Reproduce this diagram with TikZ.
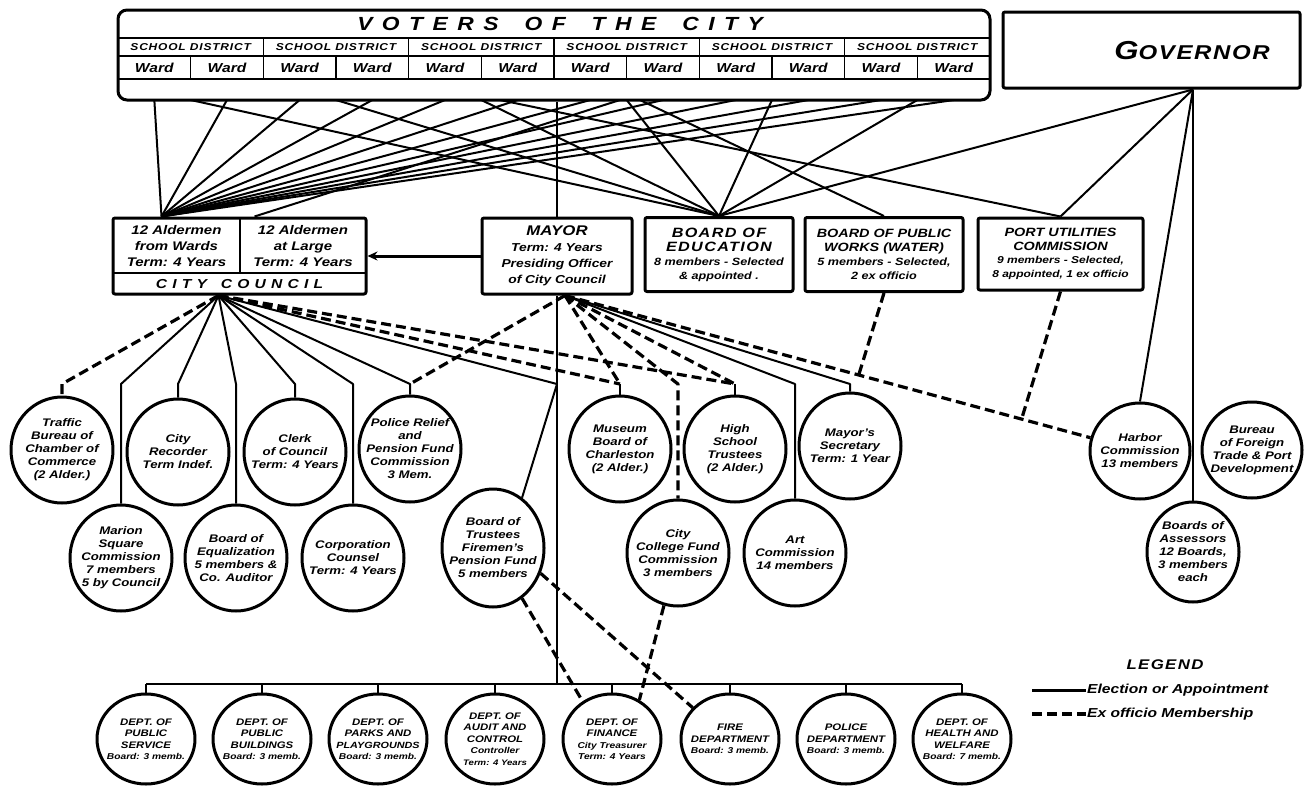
\documentclass[tikz,border=0pt]{standalone}
\usepackage{fontspec}
\setmainfont{Liberation Sans}[FakeStretch=1.2]
\usetikzlibrary{shapes.geometric,arrows.meta,calc}
\newcommand{\fsz}[2]{\fontsize{#1}{#2}\selectfont}
\newcommand{\orgn}[4][]{\node[org,#1] (#2) at (#3) {}; \node[ctext] (#2-t) at (#2.center) {#4};}
\newcommand{\deptn}[3]{\node[dept] (#1) at (#2) {}; \node[dtext] (#1-t) at (#1.center) {#3};}
\begin{document}
\begin{tikzpicture}[x=1pt,y=-1pt,line join=round,
  ctext/.style={align=center,inner sep=0pt,font=\bfseries\itshape\fsz{11}{13}},
  dtext/.style={align=center,inner sep=0pt,font=\bfseries\itshape\fsz{9.5}{11.5}},
  org/.style={ellipse,draw,line width=3pt,inner sep=0pt,minimum width=102pt,minimum height=106pt},
  dept/.style={ellipse,draw,line width=3pt,inner sep=0pt,minimum width=98pt,minimum height=90pt},
  obox/.style={draw,line width=3pt,rounded corners=2pt,inner sep=0pt,align=center,font=\bfseries\itshape\fsz{10}{13.5}},
  sol/.style={line width=2pt},
  exo/.style={line width=3.2pt,dash pattern=on 10pt off 5pt},
  rule/.style={line width=1.6pt},
]
\fill[white] (0,0) rectangle (1307,785);
\useasboundingbox (0,0) rectangle (1307,785);

% ---------------- Voters of the city
\node[obox,rounded corners=9pt,minimum width=872pt,minimum height=90pt] (voters) at (554,55) {};
\draw[rule] (118,38) -- (990,38);
\draw[rule] (118,56) -- (990,56);
\draw[rule] (118,79) -- (990,79);
\foreach \i in {1,...,5} \draw[rule] ({118+872/6*\i},38) -- ++(0,18);
\foreach \i in {1,...,11} \draw[rule] ({118+872/12*\i},56) -- ++(0,23);
\node[font=\bfseries\itshape\fsz{19}{21}\addfontfeature{LetterSpace=50}] (vt) at (560,24) {VOTERS\kern26pt OF\kern26pt THE\kern26pt CITY};
\foreach \i in {0,...,5} {
  \node[font=\bfseries\itshape\fsz{10}{11}\addfontfeature{LetterSpace=8}] (sd\i) at ({118+872/12*(2*\i+1)},47) {SCHOOL DISTRICT};
  \coordinate (s\i) at ({118+872/12*(2*\i+1)},100);
}
\foreach \i in {0,...,11} {
  \node[font=\bfseries\itshape\fsz{13}{14}] (wd\i) at ({118+872/24*(2*\i+1)},67.5) {Ward};
  \coordinate (w\i) at ({118+872/24*(2*\i+1)},100);
}

% ---------------- Governor
\node[obox,minimum width=297pt,minimum height=76pt] (gov) at (1151.5,50) {};
\node[font=\bfseries\itshape\addfontfeature{LetterSpace=8}] (govt) at (1192,51) {{\fsz{26}{28}G}{\fsz{20}{28}OVERNOR}};

% ---------------- Middle row
\node[obox,minimum width=253pt,minimum height=76pt] (council) at (239.5,256) {};
\draw[line width=2.4pt] (113,273) -- (366,273);
\draw[line width=2.4pt] (240,218) -- (240,273);
\node[ctext,font=\bfseries\itshape\fsz{12.5}{16}] (ald1) at (176.5,246) {12 Aldermen\\from Wards\\Term: 4 Years};
\node[ctext,font=\bfseries\itshape\fsz{12.5}{16}] (ald2) at (303,246) {12 Aldermen\\at Large\\Term: 4 Years};
\node[font=\bfseries\itshape\fsz{13}{14}\addfontfeature{LetterSpace=40}] (cct) at (239.5,284) {CITY\kern14pt COUNCIL};

\node[obox,minimum width=150pt,minimum height=76pt,font=\bfseries\itshape\fsz{11.5}{16}] (mayor) at (557,256)
  {{\fsz{14}{16}MAYOR}\\Term: 4 Years\\Presiding Officer\\of City Council};
\node[obox,minimum width=148pt,minimum height=74pt,font=\bfseries\itshape\fsz{10.5}{14}] (edu) at (719,254.5)
  {{\fsz{13.5}{15.5}\addfontfeature{LetterSpace=10}BOARD OF}\\{\fsz{13.5}{15.5}\addfontfeature{LetterSpace=10}EDUCATION}\\8 members - Selected\\\& appointed .};
\node[obox,minimum width=158pt,minimum height=74pt,font=\bfseries\itshape\fsz{10.5}{14}] (pw) at (884,254.5)
  {{\fsz{12}{14.5}BOARD OF PUBLIC}\\{\fsz{12}{14.5}WORKS (WATER)}\\5 members - Selected,\\2 ex officio};
\node[obox,minimum width=165pt,minimum height=72pt,font=\bfseries\itshape\fsz{10}{13.5}] (pu) at (1060.5,254)
  {{\fsz{12}{14.5}PORT UTILITIES}\\{\fsz{12}{14.5}COMMISSION}\\9 members - Selected,\\8 appointed, 1 ex officio};

% ---------------- Circles, first row
\orgn{traffic}{62,450}{Traffic\\Bureau of\\Chamber of\\Commerce\\(2 Alder.)}
\orgn{recorder}{178,452}{City\\Recorder\\Term Indef.}
\orgn{clerk}{295,452}{Clerk\\of Council\\Term: 4 Years}
\orgn{polrel}{410,449}{Police Relief\\and\\Pension Fund\\Commission\\3 Mem.}
\orgn{museum}{620,449}{Museum\\Board of\\Charleston\\(2 Alder.)}
\orgn{high}{735,449}{High\\School\\Trustees\\(2 Alder.)}
\orgn{secr}{850,446}{Mayor's\\Secretary\\Term: 1 Year}
\orgn[minimum width=100pt,minimum height=96pt]{harbor}{1140,451}{Harbor\\Commission\\13 members}
\orgn[minimum width=100pt,minimum height=96pt]{bureau}{1252,450}{Bureau\\of Foreign\\Trade \& Port\\Development}

% ---------------- Circles, second row
\orgn{marion}{121,558}{Marion\\Square\\Commission\\7 members\\5 by Council}
\orgn{equal}{236,558}{Board of\\Equalization\\5 members \&\\Co. Auditor}
\orgn{corp}{353,558}{Corporation\\Counsel\\Term: 4 Years}
\orgn[minimum height=118pt]{firemen}{493,548}{Board of\\Trustees\\Firemen's\\Pension Fund\\5 members}
\orgn{college}{678,553}{City\\College Fund\\Commission\\3 members}
\orgn{art}{795,553}{Art\\Commission\\14 members}
\orgn[minimum width=92pt,minimum height=100pt]{assess}{1193,552}{Boards of\\Assessors\\12 Boards,\\3 members\\each}

% ---------------- Departments
\deptn{pubserv}{146,739}{DEPT. OF\\PUBLIC\\SERVICE\\{\fsz{8.5}{11}Board: 3 memb.}}
\deptn{pubbld}{262,739}{DEPT. OF\\PUBLIC\\BUILDINGS\\{\fsz{8.5}{11}Board: 3 memb.}}
\deptn{parks}{378,739}{DEPT. OF\\PARKS AND\\{\fsz{9}{11.5}PLAYGROUNDS}\\{\fsz{8.5}{11}Board: 3 memb.}}
\deptn{audit}{495,739}{DEPT. OF\\AUDIT AND\\CONTROL\\{\fsz{8.5}{10.5}Controller}\\{\fsz{8}{10}Term: 4 Years}}
\deptn{finance}{612,739}{DEPT. OF\\FINANCE\\{\fsz{8.5}{11}City Treasurer}\\{\fsz{8.5}{11}Term: 4 Years}}
\deptn{fire}{730,739}{FIRE\\DEPARTMENT\\{\fsz{8.5}{11}Board: 3 memb.}}
\deptn{policed}{846,739}{POLICE\\DEPARTMENT\\{\fsz{8.5}{11}Board: 3 memb.}}
\deptn{health}{962,739}{DEPT. OF\\HEALTH AND\\WELFARE\\{\fsz{8.5}{11}Board: 7 memb.}}

% ---------------- Helper coordinates
\coordinate (lev) at (0,384);
\coordinate (bus) at (0,684);
\coordinate (ctop) at ($(council.north west)+(50,0)$);
\coordinate (alat) at ($(council.north)+(15,0)$);
\coordinate (vat) at (620,100);
\coordinate (vpw) at (640,100);
\coordinate (vpu) at (500,100);
\coordinate (cb) at ($(council.south)+(-21,0)$);
\coordinate (mb) at ($(mayor.south)+(8,0)$);
\coordinate (gb) at (gov.south -| assess.north);

% ---------------- Voters' connections
\foreach \i in {0,...,11} \draw[sol] (w\i) -- (ctop);
\foreach \i in {0,...,5} \draw[sol] (s\i) -- (edu.north);
\draw[sol] (vat) -- (alat);
\draw[sol] (mayor.north |- voters.south) -- (mayor.north);
\draw[sol] (vpw) -- (pw.north);
\draw[sol] (vpu) -- (pu.north);

% ---------------- Governor's connections
\draw[sol] (gb) -- (edu.north);
\draw[sol] (gb) -- (pu.north);
\draw[sol] (gb) -- (harbor.north);
\draw[sol] (gb) -- (assess.north);

% ---------------- Mayor to council
\draw[line width=3pt,-{Stealth[length=10pt,width=9pt]}] (mayor.west) -- (council.east);

% ---------------- Council's connections
\draw[exo] (cb) -- (traffic.north |- lev) -- (traffic.north);
\foreach \n in {marion,recorder,equal,clerk,corp,polrel}
  \draw[sol] (cb) -- (\n.north |- lev) -- (\n.north);
\coordinate (fj) at (mayor.south |- lev);
\draw[sol] (cb) -- (fj) -- (firemen.60);
\draw[exo] (cb) -- (museum.north |- lev);
\draw[exo] (cb) -- (high.north |- lev);
\draw[sol] (museum.north |- lev) -- (museum.north);
\draw[sol] (high.north |- lev) -- (high.north);

% ---------------- Mayor's connections
\draw[exo] (mb) -- (polrel.north |- lev);
\draw[exo] (mb) -- (museum.north |- lev);
\draw[exo] (mb) -- (college.north |- lev) -- (college.north);
\draw[exo] (mb) -- (high.north |- lev);
\draw[sol] (mb) -- (art.north |- lev) -- (art.north);
\draw[sol] (mb) -- (secr.north |- lev) -- (secr.north);
\draw[exo] (mb) -- (harbor.165);
\coordinate (j1) at ($(mb)!0.559!(harbor.165)$);
\coordinate (j2) at ($(mb)!0.869!(harbor.165)$);
\draw[exo] (pw.south) -- (j1);
\draw[exo] (pu.south) -- (j2);

% ---------------- Departments bus
\draw[sol] (mayor.south) -- (mayor.south |- bus);
\draw[sol] (pubserv.north |- bus) -- (health.north |- bus);
\foreach \dd in {pubserv,pubbld,parks,audit,finance,fire,policed,health}
  \draw[sol] (\dd.north |- bus) -- (\dd.north);

% ---------------- Ex officio at the bottom
\draw[exo] (firemen.-60) -- (finance.128);
\draw[exo] (firemen.-28) -- (fire.140);
\draw[exo] (college.-105) -- (finance.55);

% ---------------- Legend
\node[font=\bfseries\itshape\fsz{14}{16}\addfontfeature{LetterSpace=10}] (legt) at (1165,665) {LEGEND};
\coordinate (l1a) at (1032,690);
\coordinate (l1b) at (1086,690);
\coordinate (l2a) at (1032,714);
\coordinate (l2b) at (1086,714);
\draw[line width=3pt] (l1a) -- (l1b);
\draw[exo] (l2a) -- (l2b);
\node[anchor=west,inner sep=1pt,font=\bfseries\itshape\fsz{13}{15}] (leg1) at (l1b) {Election or Appointment};
\node[anchor=west,inner sep=1pt,font=\bfseries\itshape\fsz{13}{15}] (leg2) at (l2b) {Ex officio Membership};
\end{tikzpicture}
\end{document}
